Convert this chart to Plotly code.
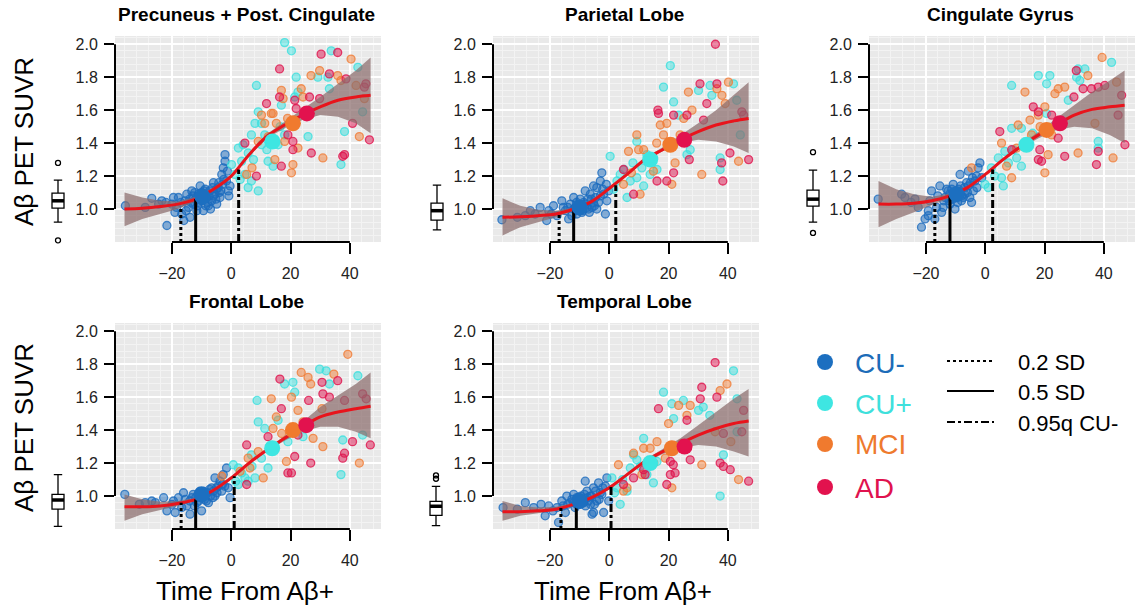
import plotly.graph_objects as go

W, H = 1138, 611

GROUPS = ["CU-", "CU+", "MCI", "AD"]
POINT_RGB = [(28, 108, 190), (60, 224, 222), (240, 125, 55), (222, 20, 78)]
MEAN_COLORS = ["#1c6fc0", "#3ee6e2", "#f07a2e", "#e2124e"]
LEGEND_TEXT_COLORS = ["#1c6cb8", "#3ee0dc", "#ee7a2e", "#e0124e"]
PANEL_TITLES = ["Precuneus + Post. Cingulate", "Parietal Lobe", "Cingulate Gyrus",
                "Frontal Lobe", "Temporal Lobe"]
X_TICKS = [-20, 0, 20, 40]
Y_TICKS = [1.0, 1.2, 1.4, 1.6, 1.8, 2.0]
THRESH_NAMES = ["0.2 SD", "0.5 SD", "0.95q CU-"]
THRESH_DASH = ["dot", "solid", "8px,3px,3px,3px"]
X_TITLE = "Time From Aβ+"
Y_TITLE = "Aβ PET SUVR"

# fitted curve & confidence band (read at these times)
CURVE_X = [-36, -30, -24, -18, -12, -6, 0, 6, 12, 18, 24, 30, 36, 42, 47]

prec_fit = [1.00, 1.005, 1.015, 1.03, 1.06, 1.12, 1.20, 1.33, 1.44, 1.51, 1.57, 1.62, 1.66, 1.68, 1.69]
prec_lo = [0.895, 0.94, 0.97, 1.00, 1.045, 1.11, 1.19, 1.32, 1.43, 1.49, 1.54, 1.57, 1.56, 1.52, 1.46]
prec_hi = [1.10, 1.07, 1.05, 1.045, 1.075, 1.13, 1.21, 1.34, 1.455, 1.53, 1.60, 1.68, 1.76, 1.84, 1.92]

par_fit = [0.95, 0.953, 0.96, 0.97, 1.00, 1.045, 1.125, 1.21, 1.30, 1.36, 1.42, 1.47, 1.51, 1.535, 1.55]
par_lo = [0.84, 0.89, 0.92, 0.95, 0.99, 1.035, 1.115, 1.20, 1.29, 1.35, 1.40, 1.42, 1.41, 1.38, 1.34]
par_hi = [1.065, 1.02, 0.995, 0.99, 1.01, 1.055, 1.135, 1.22, 1.31, 1.375, 1.445, 1.52, 1.60, 1.69, 1.77]

cing_fit = [1.03, 1.03, 1.035, 1.05, 1.08, 1.13, 1.21, 1.30, 1.38, 1.45, 1.51, 1.57, 1.605, 1.62, 1.63]
cing_lo = [0.89, 0.94, 0.98, 1.025, 1.065, 1.12, 1.20, 1.29, 1.37, 1.43, 1.48, 1.50, 1.49, 1.45, 1.40]
cing_hi = [1.17, 1.12, 1.09, 1.075, 1.095, 1.14, 1.22, 1.31, 1.39, 1.47, 1.545, 1.63, 1.71, 1.78, 1.84]

front_fit = [0.935, 0.935, 0.94, 0.955, 0.98, 1.035, 1.11, 1.20, 1.28, 1.35, 1.42, 1.48, 1.51, 1.53, 1.545]
front_lo = [0.85, 0.89, 0.915, 0.94, 0.97, 1.025, 1.10, 1.19, 1.27, 1.335, 1.39, 1.42, 1.42, 1.39, 1.35]
front_hi = [1.01, 0.98, 0.965, 0.97, 0.99, 1.045, 1.12, 1.21, 1.29, 1.365, 1.45, 1.54, 1.61, 1.68, 1.75]

temp_fit = [0.905, 0.905, 0.91, 0.92, 0.95, 0.99, 1.05, 1.13, 1.21, 1.27, 1.32, 1.37, 1.41, 1.44, 1.455]
temp_lo = [0.85, 0.88, 0.895, 0.91, 0.94, 0.98, 1.04, 1.12, 1.20, 1.255, 1.29, 1.31, 1.30, 1.27, 1.24]
temp_hi = [0.97, 0.94, 0.93, 0.935, 0.96, 1.00, 1.06, 1.14, 1.22, 1.285, 1.35, 1.43, 1.51, 1.59, 1.65]

# threshold times and curve heights: 0.2 SD, 0.5 SD, 0.95q CU-
prec_thr_x, prec_thr_y = [-17.0, -12.0, 2.5], [1.01, 1.06, 1.24]
par_thr_x, par_thr_y = [-16.9, -12.0, 2.2], [0.97, 1.00, 1.145]
cing_thr_x, cing_thr_y = [-17.0, -11.9, 2.5], [1.05, 1.08, 1.24]
front_thr_x, front_thr_y = [-16.9, -12.0, 1.0], [0.96, 0.98, 1.12]
temp_thr_x, temp_thr_y = [-16.3, -11.1, 0.6], [0.93, 0.94, 1.06]

# group means (time, SUVR): CU-, CU+, MCI, AD
prec_means = [(-9.7, 1.075), (13.9, 1.41), (20.8, 1.52), (25.5, 1.58)]
par_means = [(-10.0, 1.01), (13.8, 1.30), (20.6, 1.39), (25.3, 1.42)]
cing_means = [(-9.7, 1.09), (13.9, 1.39), (20.7, 1.48), (25.2, 1.52)]
front_means = [(-10.0, 1.01), (13.8, 1.29), (20.8, 1.40), (25.3, 1.43)]
temp_means = [(-10.0, 0.97), (13.8, 1.20), (21.1, 1.29), (25.4, 1.30)]

# marginal box plots: lower whisker, q1, median, q3, upper whisker; outliers
prec_box, prec_out = [0.92, 1.006, 1.05, 1.097, 1.176], [1.28, 0.81]
par_box, par_out = [0.873, 0.933, 0.99, 1.036, 1.145], []
cing_box, cing_out = [0.92, 1.018, 1.06, 1.115, 1.236], [1.345, 0.855]
front_box, front_out = [0.816, 0.92, 0.976, 1.01, 1.13], []
temp_box, temp_out = [0.82, 0.883, 0.938, 0.968, 1.059], [1.105, 1.125]

# individual subjects (time, SUVR)
prec_cuneg = [(-35.7, 1.02), (-29, 1.01), (-26.8, 1.065), (-23.4, 1.05), (-21.7, 0.90), (-20, 1.03),
              (-19.5, 1.07), (-18.4, 1.01), (-17.8, 1.07), (-16.7, 0.97), (-16, 0.93), (-15.6, 1.05),
              (-15, 1.09), (-14.4, 1.01), (-13.9, 0.95), (-13.3, 1.11), (-12.8, 1.03), (-11.6, 0.99),
              (-11.1, 1.09), (-10.5, 1.14), (-10.0, 1.05), (-9.4, 0.99), (-8.8, 1.12), (-8.3, 1.07),
              (-7.7, 1.02), (-7.2, 1.11), (-6.6, 1.05), (-6.0, 1.16), (-5.5, 1.09), (-4.9, 1.03),
              (-4.4, 1.13), (-3.8, 1.07), (-3.2, 1.21), (-2.7, 1.25), (-2.1, 1.33), (-2.1, 1.29),
              (-1.6, 1.17), (-1.0, 1.11), (-0.4, 1.14), (-12, 1.06), (-9, 1.08), (-8, 1.04), (-6, 1.08),
              (-5, 1.12), (-11, 1.04), (-14, 1.06), (-4, 1.10), (-3, 1.15), (-7, 1.00), (-10, 1.10),
              (-13, 1.08), (-24.5, 1.03), (-22, 1.04), (-19, 0.98), (-17, 1.04), (-15.2, 0.99), (-13.6, 1.04),
              (-12.3, 1.10), (-11.4, 1.02), (-10.2, 1.07), (-9.2, 1.11), (-8.6, 1.02), (-7.5, 1.08),
              (-6.3, 1.13), (-5.2, 1.06), (-4.2, 1.16), (-3.5, 1.11), (-2.5, 1.18), (-1.3, 1.23), (-0.8, 1.08)]
prec_cupos = [(18.0, 2.01), (20.3, 1.96), (33.7, 1.96), (2.4, 1.37), (4.0, 1.39), (5.7, 1.34), (6.8, 1.45),
              (8.0, 1.52), (8.5, 1.75), (9.1, 1.59), (10.2, 1.39), (11.3, 1.45), (12.4, 1.29), (4.6, 1.21),
              (9.1, 1.11), (6.8, 1.17), (5.7, 1.13), (3.5, 1.29), (10.2, 1.52), (16.9, 1.63), (18.0, 1.45),
              (21.4, 1.68), (22.5, 1.71), (21.9, 1.80), (25.9, 1.44), (29.2, 1.80), (32.6, 1.80),
              (33.1, 1.73), (38.2, 1.47), (37.0, 1.27), (44.3, 1.59), (42.7, 1.86), (0.1, 1.27),
              (1.2, 1.21), (14.1, 1.26), (15.8, 1.39), (3.0, 1.18), (7.5, 1.30), (12.0, 1.36), (16.5, 1.50)]
prec_mci = [(9.1, 1.41), (11.3, 1.52), (13.5, 1.58), (15.2, 1.52), (16.9, 1.72), (17.5, 1.67), (18.0, 1.41),
            (20.3, 1.22), (20.8, 1.27), (23.6, 1.73), (24.2, 1.68), (26.9, 1.81), (29.8, 1.84), (35.9, 1.81),
            (40.4, 1.91), (42.1, 1.75), (43.2, 1.44), (30.9, 1.31), (14.7, 1.30), (5.2, 1.21), (10.2, 1.57),
            (14.1, 1.58), (22.5, 1.37), (44.9, 1.67), (37.0, 1.78), (7.0, 1.25), (12.5, 1.44), (19.0, 1.55)]
prec_ad = [(16.3, 1.85), (11.9, 1.64), (16.3, 1.68), (4.6, 1.40), (8.5, 1.20), (16.9, 1.26), (20.8, 1.41),
           (21.4, 1.66), (21.9, 1.61), (26.4, 1.68), (27.0, 1.34), (30.3, 1.94), (33.1, 1.82), (35.9, 1.95),
           (29.8, 1.67), (38.2, 1.33), (37.6, 1.32), (38.7, 1.79), (40.9, 1.52), (44.9, 1.74), (45.4, 1.76),
           (46.6, 1.42), (19.1, 1.45), (20.8, 1.36)]

par_cuneg = [(-36.2, 0.935), (-26.6, 0.99), (-23.3, 1.01), (-21.1, 0.93), (-18.8, 1.02), (-17.6, 0.96),
             (-16, 1.05), (-14.8, 0.99), (-13.1, 1.03), (-12, 1.07), (-10.9, 0.97), (-9.8, 1.06),
             (-8.1, 1.11), (-7.5, 1.01), (-6.4, 1.09), (-5.3, 1.04), (-4.2, 1.13), (-3, 1.17), (-2.5, 1.22),
             (-1.9, 1.09), (-1.3, 0.97), (-0.8, 1.05), (-28.3, 0.96), (-20.4, 0.99), (-13.7, 0.94),
             (-9.2, 0.98), (-5.3, 1.14), (-4.2, 1.00), (-0.2, 1.11), (-12, 1.00), (-10, 1.02), (-9, 0.99),
             (-8, 1.03), (-7, 1.00), (-6, 1.06), (-5, 1.02), (-11, 1.04), (-3, 1.08), (-14, 1.01),
             (-31, 0.95), (-25, 0.97), (-19.5, 0.97), (-15.5, 1.01), (-12.6, 0.96), (-11.4, 1.01),
             (-10.4, 0.99), (-8.6, 1.04), (-7.2, 1.06), (-6.7, 0.98), (-5.8, 1.01), (-4.6, 1.07),
             (-3.6, 1.04), (-2.2, 1.12), (-1.0, 1.15)]
par_cupos = [(20.6, 1.87), (18.3, 1.74), (21.7, 1.65), (34.0, 1.75), (34.6, 1.69), (41.9, 1.76), (43.0, 1.66),
             (44.2, 1.45), (37.4, 1.24), (37.4, 1.31), (3.7, 1.21), (6.0, 1.07), (7.1, 1.17), (9.3, 1.19),
             (11.0, 1.25), (11.6, 1.14), (13.8, 1.21), (12.7, 1.33), (16.1, 1.24), (0.3, 1.32), (2.6, 1.17),
             (23.4, 1.57), (26.2, 1.33), (27.3, 1.36), (30.1, 1.72), (9.3, 1.41), (1.5, 1.12), (5.0, 1.24),
             (8.0, 1.28), (15.0, 1.31)]
par_mci = [(6.5, 1.35), (9.3, 1.45), (9.9, 1.36), (11.6, 1.36), (13.3, 1.29), (14.9, 1.23), (17.2, 1.51),
           (19.4, 1.52), (18.3, 1.45), (22.2, 1.28), (21.1, 1.15), (26.7, 1.71), (27.9, 1.60), (31.2, 1.21),
           (36.3, 1.73), (38.0, 1.69), (40.2, 1.77), (39.1, 1.64), (43.6, 1.29), (10.4, 1.09), (4.8, 1.15),
           (23.9, 1.45), (25.1, 1.55), (7.5, 1.22), (16.0, 1.40)]
par_ad = [(35.8, 2.00), (16.4, 1.60), (16.6, 1.58), (16.1, 1.17), (19.4, 1.17), (21.7, 1.57), (21.7, 1.22),
          (26.2, 1.57), (27.0, 1.30), (30.6, 1.76), (32.9, 1.64), (31.8, 1.54), (36.3, 1.76), (37.9, 1.28),
          (40.7, 1.34), (38.3, 1.17), (44.7, 1.59), (47.0, 1.30), (4.8, 1.24), (8.2, 1.09), (45.3, 1.57)]

cing_cuneg = [(-36.1, 1.06), (-28.2, 1.09), (-27.1, 1.07), (-23.7, 1.06), (-22.6, 1.01), (-21.5, 0.89),
              (-19.2, 0.96), (-18.7, 1.05), (-18.1, 1.11), (-16.4, 1.01), (-15.3, 1.14), (-14.7, 0.98),
              (-13.6, 1.07), (-12.5, 1.11), (-11.9, 1.03), (-10.8, 1.15), (-10.2, 1.00), (-8.5, 1.21),
              (-8.0, 1.05), (-6.9, 1.09), (-5.7, 1.14), (-4.6, 1.04), (-4.0, 1.11), (-3.5, 1.17),
              (-2.4, 1.25), (-1.8, 1.28), (-1.2, 1.19), (-20.3, 0.94), (-17.0, 0.94), (-14.2, 1.01),
              (-9.7, 1.07), (-5.7, 1.23), (-19.2, 0.99), (-12, 1.09), (-10, 1.10), (-9, 1.12), (-8, 1.08),
              (-7, 1.13), (-6, 1.10), (-5, 1.16), (-11, 1.06), (-3, 1.20), (-14, 1.05),
              (-25, 1.04), (-16, 1.08), (-13, 1.12), (-12.2, 1.05), (-11.3, 1.12), (-9.3, 1.04),
              (-8.3, 1.14), (-7.4, 1.07), (-6.3, 1.16), (-5.2, 1.07), (-4.3, 1.19), (-2.8, 1.13)]
cing_cupos = [(8.9, 1.75), (17.9, 1.81), (20.7, 1.76), (21.8, 1.81), (31.3, 1.85), (33.6, 1.85), (42.6, 1.89),
              (30.8, 1.80), (31.9, 1.78), (28.0, 1.66), (38.1, 1.41), (38.1, 1.37), (4.4, 1.31), (6.6, 1.35),
              (5.5, 1.19), (2.1, 1.25), (7.8, 1.28), (10.6, 1.31), (12.2, 1.26), (8.9, 1.49), (12.2, 1.49),
              (14.5, 1.41), (-0.1, 1.15), (1.0, 1.13), (6.1, 1.14), (20.7, 1.58), (3.2, 1.20), (9.5, 1.36),
              (16.0, 1.46)]
cing_mci = [(-4.6, 1.25), (5.5, 1.40), (8.9, 1.19), (11.1, 1.51), (13.4, 1.71), (15.1, 1.54), (17.9, 1.57),
            (20.1, 1.62), (20.1, 1.22), (21.2, 1.33), (23.5, 1.70), (24.6, 1.73), (26.8, 1.74), (31.3, 1.34),
            (34.6, 1.81), (37.0, 1.52), (39.4, 1.92), (43.1, 1.31), (44.3, 1.77), (15.6, 1.45), (22.4, 1.45),
            (10.6, 1.37), (7.2, 1.26), (18.5, 1.50)]
cing_ad = [(4.9, 1.47), (8.9, 1.36), (16.2, 1.62), (17.9, 1.59), (18.4, 1.36), (19.0, 1.29), (22.4, 1.57),
           (24.6, 1.43), (26.8, 1.32), (29.9, 1.68), (30.7, 1.84), (33.0, 1.73), (35.8, 1.73), (38.1, 1.74),
           (38.1, 1.35), (37.5, 1.27), (40.3, 1.75), (46.0, 1.69), (47.1, 1.39), (44.8, 1.57), (17.9, 1.30)]

front_cuneg = [(-35.9, 1.01), (-29, 0.96), (-26.8, 0.97), (-22.8, 0.99), (-21.7, 0.91), (-18.9, 0.90),
               (-17.8, 0.99), (-16.1, 1.02), (-15, 0.94), (-13.9, 0.89), (-13.3, 0.99), (-11.6, 0.96),
               (-10.5, 1.03), (-8.8, 1.01), (-7.7, 0.96), (-6.6, 1.05), (-5.5, 1.00), (-4.4, 1.06),
               (-3.2, 1.03), (-2.7, 1.13), (-1.6, 1.17), (-1.0, 1.05), (-0.4, 0.99), (-10, 0.91),
               (-20, 0.95), (-16.7, 0.93), (-5.5, 1.11), (-12.8, 1.01), (-25.6, 0.96), (-12, 0.99),
               (-10, 1.00), (-9, 0.98), (-8, 1.02), (-7, 1.00), (-6, 1.03), (-5, 1.05), (-11, 0.97),
               (-3, 1.07), (-14, 0.97), (-31, 0.95), (-19.5, 0.97), (-15.5, 0.98), (-12.4, 0.94),
               (-11.2, 1.01), (-9.5, 1.03), (-8.4, 0.97), (-7.3, 1.04), (-6.2, 0.99), (-4.8, 1.02),
               (-3.8, 1.09), (-2.2, 1.06)]
front_cupos = [(8.7, 1.58), (18.0, 1.68), (20.8, 1.69), (21.4, 1.63), (29.8, 1.77), (32.0, 1.76), (33.1, 1.68),
               (42.7, 1.73), (44.3, 1.37), (37.6, 1.34), (37.0, 1.13), (9.1, 1.45), (11.3, 1.41), (15.8, 1.46),
               (6.8, 1.25), (10.2, 1.23), (12.4, 1.17), (2.4, 1.07), (4.6, 1.11), (2.4, 1.17), (0.7, 1.19),
               (8.0, 1.11), (5.7, 1.09), (19.1, 1.33), (24.2, 1.36), (1.5, 1.09), (3.5, 1.14), (7.0, 1.18),
               (13.0, 1.30)]
front_mci = [(-3.2, 1.12), (5.7, 1.23), (6.3, 1.17), (9.1, 1.27), (13.5, 1.59), (14.1, 1.41), (15.2, 1.48),
             (20.3, 1.60), (18.6, 1.21), (22.5, 1.52), (23.6, 1.75), (25.9, 1.72), (26.8, 1.68), (30.6, 1.53),
             (30.9, 1.30), (34.6, 1.74), (39.3, 1.86), (43.2, 1.20), (27.6, 1.35), (10.8, 1.11), (24.2, 1.45),
             (3.0, 1.15), (17.0, 1.38)]
front_ad = [(5.2, 1.31), (5.2, 1.07), (12.4, 1.36), (16.4, 1.71), (16.9, 1.53), (21.4, 1.24), (19.1, 1.14),
            (20.3, 1.14), (26.1, 1.58), (26.8, 1.20), (30.6, 1.69), (30.9, 1.62), (33.1, 1.60), (35.9, 1.70),
            (38.2, 1.58), (38.2, 1.26), (37.6, 1.23), (40.9, 1.33), (44.3, 1.62), (45.5, 1.59), (46.9, 1.31),
            (22.5, 1.37)]

temp_cuneg = [(-35.8, 0.93), (-28.3, 0.96), (-25.5, 0.93), (-21.6, 0.88), (-20.4, 0.94), (-17.6, 0.93),
              (-17.1, 0.84), (-16, 0.97), (-14.8, 0.90), (-13.1, 0.96), (-12, 1.01), (-11.5, 0.93),
              (-10.3, 0.99), (-8.7, 0.96), (-7.5, 1.03), (-6.4, 1.00), (-5.8, 0.89), (-5.3, 1.05),
              (-4.2, 0.97), (-3.6, 1.08), (-2.5, 1.01), (-1.9, 0.90), (-1.3, 1.06), (-0.8, 1.11),
              (-0.2, 0.97), (-5.3, 0.90), (-14.3, 1.00), (-8.1, 1.09), (-12, 0.96), (-10, 0.95),
              (-9, 0.98), (-8, 0.94), (-7, 0.97), (-6, 1.00), (-5, 0.95), (-11, 0.99), (-3, 1.02),
              (-14, 0.95), (-31, 0.92), (-23, 0.95), (-19, 0.91), (-15.6, 0.94), (-12.6, 0.98),
              (-11.0, 0.95), (-9.6, 1.00), (-8.4, 1.01), (-7.3, 0.99), (-6.3, 0.95), (-4.6, 1.03),
              (-3.4, 0.98), (-2.2, 1.05)]
temp_cupos = [(18.3, 1.63), (21.1, 1.56), (21.7, 1.47), (25.0, 1.58), (11.6, 1.35), (7.1, 1.17), (6.0, 1.03),
              (3.7, 0.95), (2.6, 1.05), (9.3, 1.22), (12.7, 1.13), (14.9, 1.08), (16.1, 1.21), (30.1, 1.52),
              (31.7, 1.54), (33.9, 1.49), (38.5, 1.25), (37.4, 1.00), (41.9, 1.76), (43.1, 1.59), (43.1, 1.39),
              (0.9, 1.11), (8.2, 1.25), (1.8, 1.02), (4.5, 1.10), (10.5, 1.18)]
temp_mci = [(3.1, 1.19), (4.8, 1.03), (8.2, 1.26), (11.6, 1.29), (13.8, 1.29), (16.1, 1.33), (18.9, 1.23),
            (20.0, 1.44), (21.1, 1.05), (23.4, 1.55), (26.2, 1.49), (27.3, 1.55), (31.2, 1.19), (35.7, 1.39),
            (37.4, 1.64), (39.7, 1.68), (43.6, 1.10), (41.0, 1.33), (11.0, 1.13), (6.0, 1.05), (15.0, 1.20),
            (24.5, 1.32)]
temp_ad = [(4.8, 1.07), (8.2, 1.11), (11.6, 1.16), (12.1, 1.13), (16.6, 1.53), (19.4, 1.07), (20.6, 1.13),
           (22.2, 1.14), (21.6, 1.19), (26.2, 1.46), (27.3, 1.22), (30.7, 1.59), (31.2, 1.66), (35.7, 1.81),
           (36.3, 1.60), (38.5, 1.38), (37.4, 1.20), (38.5, 1.18), (40.8, 1.16), (45.3, 1.52), (44.7, 1.39),
           (47.0, 1.09), (20.6, 1.21)]

PANELS = [
    dict(pts=[prec_cuneg, prec_cupos, prec_mci, prec_ad], fit=prec_fit, lo=prec_lo, hi=prec_hi,
         thr_x=prec_thr_x, thr_y=prec_thr_y, means=prec_means, box=prec_box, out=prec_out),
    dict(pts=[par_cuneg, par_cupos, par_mci, par_ad], fit=par_fit, lo=par_lo, hi=par_hi,
         thr_x=par_thr_x, thr_y=par_thr_y, means=par_means, box=par_box, out=par_out),
    dict(pts=[cing_cuneg, cing_cupos, cing_mci, cing_ad], fit=cing_fit, lo=cing_lo, hi=cing_hi,
         thr_x=cing_thr_x, thr_y=cing_thr_y, means=cing_means, box=cing_box, out=cing_out),
    dict(pts=[front_cuneg, front_cupos, front_mci, front_ad], fit=front_fit, lo=front_lo, hi=front_hi,
         thr_x=front_thr_x, thr_y=front_thr_y, means=front_means, box=front_box, out=front_out),
    dict(pts=[temp_cuneg, temp_cupos, temp_mci, temp_ad], fit=temp_fit, lo=temp_lo, hi=temp_hi,
         thr_x=temp_thr_x, thr_y=temp_thr_y, means=temp_means, box=temp_box, out=temp_out),
]

# ---------------- layout geometry (pixels) ----------------
PANEL_BOX = [(115, 381, 36, 242), (493, 759, 36, 242), (869, 1135, 36, 242),
             (115, 381, 323, 529), (493, 759, 323, 529)]
BOX_CX = [58, 437, 813, 58, 436]
X_RANGE = [-39.2, 50.5]
Y_RANGE = [0.8, 2.05]
FONT = "Liberation Sans, Arial, sans-serif"


def px_x(p):
    return p / W


def px_y(p):
    return 1 - p / H


def axname(letter, n):
    return letter if n == 1 else f"{letter}{n}"


fig = go.Figure()
layout = dict(width=W, height=H, margin=dict(l=0, r=0, t=0, b=0),
              paper_bgcolor="white", plot_bgcolor="rgba(0,0,0,0)", showlegend=False,
              font=dict(family=FONT, color="black"))
shapes = []
annotations = []

for i, (pan, box) in enumerate(zip(PANELS, PANEL_BOX)):
    n = i + 1
    xa, ya = axname("x", n), axname("y", n)
    xkey, ykey = axname("xaxis", n), axname("yaxis", n)
    x0, x1, y0, y1 = box
    bottom_row = i >= 3
    layout[xkey] = dict(
        domain=[px_x(x0), px_x(x1)], range=X_RANGE, anchor=ya, tickvals=X_TICKS,
        ticks="outside", ticklen=11, tickwidth=2, tickcolor="black", showline=False, zeroline=False,
        showgrid=True, gridcolor="white", gridwidth=2,
        minor=dict(dtick=4, tick0=0, showgrid=True, gridcolor="#f3f3f3", gridwidth=1, ticks=""),
        tickfont=dict(size=16, color="#222", family=FONT), ticklabelstandoff=6, fixedrange=True)
    layout[ykey] = dict(
        domain=[px_y(y1), px_y(y0)], range=Y_RANGE, anchor=xa, tickvals=Y_TICKS,
        ticktext=[f"{v:.1f}" for v in Y_TICKS],
        ticks="outside", ticklen=10, tickwidth=2, tickcolor="black", showline=False, zeroline=False,
        showgrid=True, gridcolor="white", gridwidth=2,
        minor=dict(dtick=0.04, tick0=0, showgrid=True, gridcolor="#f3f3f3", gridwidth=1, ticks=""),
        tickfont=dict(size=16, color="#222", family=FONT), ticklabelstandoff=3, fixedrange=True)

    # gray panel background
    shapes.append(dict(type="rect", xref=f"{xa} domain", yref=f"{ya} domain", x0=0, x1=1, y0=0, y1=1,
                       fillcolor="#e9e9e9", line=dict(width=0), layer="below"))
    # R-style partial axis lines
    shapes.append(dict(type="line", xref=xa, yref=f"{ya} domain", x0=X_TICKS[0], x1=X_TICKS[-1], y0=0, y1=0,
                       line=dict(color="black", width=2)))
    shapes.append(dict(type="line", xref=f"{xa} domain", yref=ya, x0=0, x1=0, y0=Y_TICKS[0], y1=Y_TICKS[-1],
                       line=dict(color="black", width=2)))

    # scatter of individuals
    for g, pts in enumerate(pan["pts"]):
        r, gg, b = POINT_RGB[g]
        fig.add_trace(go.Scatter(
            x=[p[0] for p in pts], y=[p[1] for p in pts], mode="markers", xaxis=xa, yaxis=ya,
            marker=dict(size=8, color=f"rgba({r},{gg},{b},0.5)",
                        line=dict(color=f"rgba({r},{gg},{b},0.8)", width=1.3)),
            hoverinfo="skip"))

    # confidence band
    fig.add_trace(go.Scatter(
        x=CURVE_X + CURVE_X[::-1], y=pan["hi"] + pan["lo"][::-1], mode="lines", fill="toself",
        fillcolor="rgba(138,108,108,0.72)", line=dict(width=0),
        xaxis=xa, yaxis=ya, hoverinfo="skip"))
    # fitted curve
    fig.add_trace(go.Scatter(x=CURVE_X, y=pan["fit"], mode="lines", xaxis=xa, yaxis=ya,
                             line=dict(color="#e8141c", width=3, shape="spline"), hoverinfo="skip"))
    # threshold verticals
    for k in range(3):
        fig.add_trace(go.Scatter(x=[pan["thr_x"][k]] * 2, y=[Y_RANGE[0], pan["thr_y"][k]], mode="lines",
                                 xaxis=xa, yaxis=ya, line=dict(color="black", width=3, dash=THRESH_DASH[k]),
                                 hoverinfo="skip"))
    # group means
    for g, (mx, my) in enumerate(pan["means"]):
        fig.add_trace(go.Scatter(x=[mx], y=[my], mode="markers", xaxis=xa, yaxis=ya,
                                 marker=dict(size=16, color=MEAN_COLORS[g]), hoverinfo="skip"))

    # marginal box plot on its own small axis
    bn = n + 5
    bxa, bya = f"x{bn}", f"y{bn}"
    cx = BOX_CX[i]
    layout[f"xaxis{bn}"] = dict(domain=[px_x(cx - 10), px_x(cx + 10)], range=[-1, 1], visible=False,
                                anchor=bya, fixedrange=True)
    layout[f"yaxis{bn}"] = dict(domain=[px_y(y1), px_y(y0)], range=Y_RANGE, visible=False,
                                anchor=bxa, fixedrange=True)
    lf, q1, med, q3, uf = pan["box"]
    fig.add_trace(go.Box(x=[0], q1=[q1], median=[med], q3=[q3], lowerfence=[lf], upperfence=[uf],
                         width=1.2, whiskerwidth=0.7, fillcolor="white", boxpoints=False,
                         line=dict(color="black", width=1.3), xaxis=bxa, yaxis=bya, hoverinfo="skip"))
    fig.add_trace(go.Scatter(x=[-0.6, 0.6], y=[med, med], mode="lines", xaxis=bxa, yaxis=bya,
                             line=dict(color="black", width=3.5), hoverinfo="skip"))
    if pan["out"]:
        fig.add_trace(go.Scatter(x=[0] * len(pan["out"]), y=pan["out"], mode="markers", xaxis=bxa, yaxis=bya,
                                 marker=dict(symbol="circle-open", size=5, color="black", line=dict(width=1.3)),
                                 hoverinfo="skip", cliponaxis=False))

    # panel title
    annotations.append(dict(text=f"<b>{PANEL_TITLES[i]}</b>", xref="paper", yref="paper",
                            x=px_x((x0 + x1) / 2 - 2), y=px_y(y0 - 21), xanchor="center", yanchor="middle",
                            showarrow=False, font=dict(size=19, family=FONT, color="black")))
    if bottom_row:
        annotations.append(dict(text=X_TITLE, xref="paper", yref="paper", x=px_x((x0 + x1) / 2 - 3),
                                y=px_y(591), xanchor="center", yanchor="middle", showarrow=False,
                                font=dict(size=26, family=FONT, color="black")))
    if i in (0, 3):
        annotations.append(dict(text=Y_TITLE, xref="paper", yref="paper", x=px_x(24),
                                y=px_y(142 if i == 0 else 428), xanchor="center", yanchor="middle",
                                textangle=-90, showarrow=False,
                                font=dict(size=26, family=FONT, color="black")))

# ---------------- legend ----------------
LEG_Y = [362, 403, 444, 487]
for g, name in enumerate(GROUPS):
    cy = LEG_Y[g]
    shapes.append(dict(type="circle", xref="paper", yref="paper", x0=px_x(825 - 8), x1=px_x(825 + 8),
                       y0=px_y(cy + 8), y1=px_y(cy - 8), fillcolor=MEAN_COLORS[g], line=dict(width=0)))
    annotations.append(dict(text=name, xref="paper", yref="paper", x=px_x(853), y=px_y(cy + 1),
                            xanchor="left", yanchor="middle", showarrow=False,
                            font=dict(size=28, family=FONT, color=LEGEND_TEXT_COLORS[g])))
LEG_LY = [361, 391, 422]
for k, name in enumerate(THRESH_NAMES):
    ly = LEG_LY[k]
    shapes.append(dict(type="line", xref="paper", yref="paper", x0=px_x(947), x1=px_x(994),
                       y0=px_y(ly), y1=px_y(ly), line=dict(color="black", width=2, dash=THRESH_DASH[k])))
    annotations.append(dict(text=name, xref="paper", yref="paper", x=px_x(1016), y=px_y(ly + 1),
                            xanchor="left", yanchor="middle", showarrow=False,
                            font=dict(size=22, family=FONT, color="black")))

layout["shapes"] = shapes
layout["annotations"] = annotations
fig.update_layout(**layout)
fig.write_html("out.html", config={"displayModeBar": False},
               post_script="document.body.style.margin='0';document.body.style.overflow='hidden';")
